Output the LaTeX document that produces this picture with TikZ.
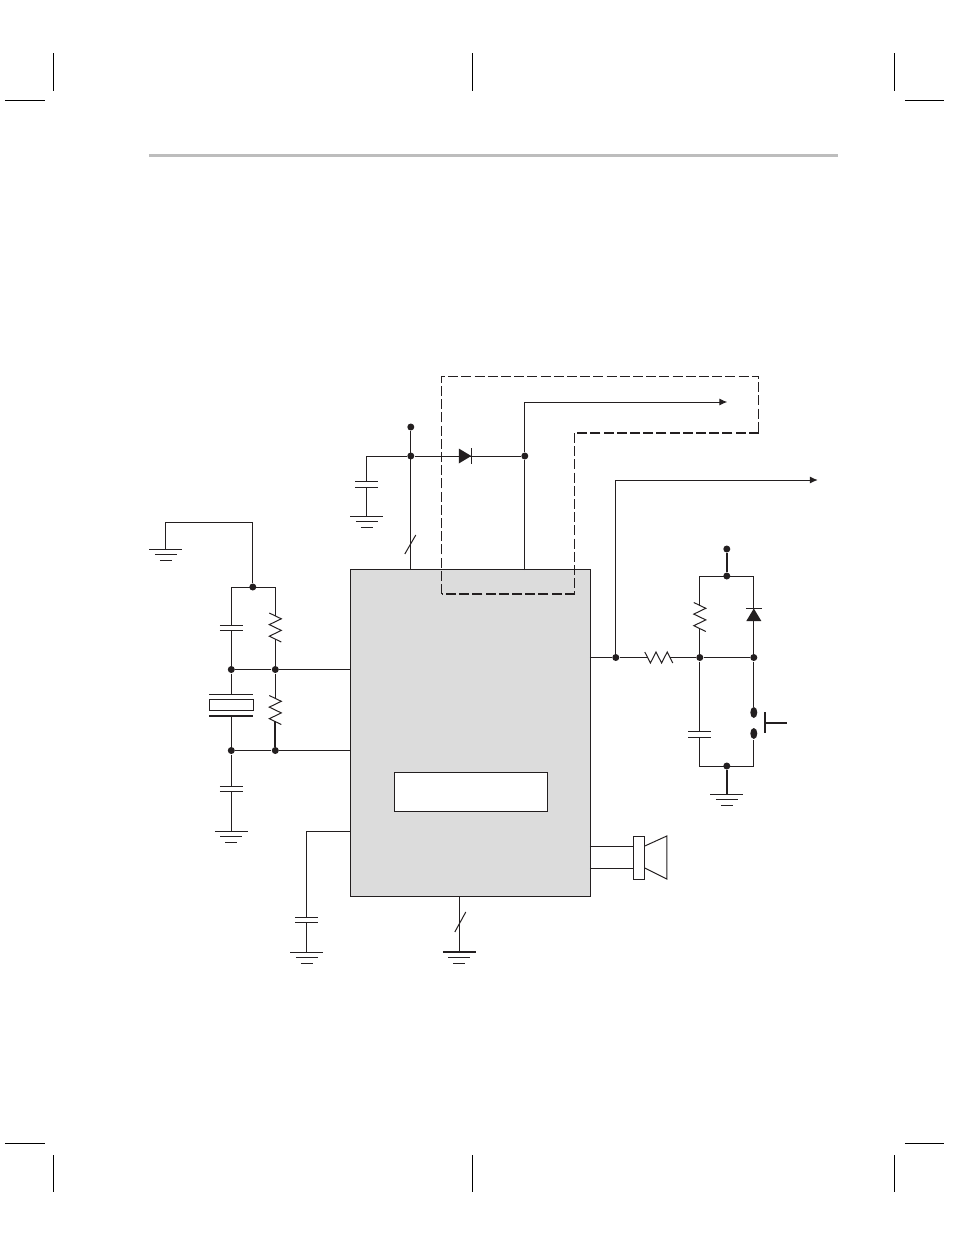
\documentclass[tikz,border=0pt]{standalone}
\usepackage{tikz}
\usetikzlibrary{arrows.meta,shapes.geometric}
\definecolor{inkColor}{HTML}{231F20}
\definecolor{chipColor}{HTML}{DCDCDC}
\definecolor{ruleColor}{HTML}{BDBDBD}
\newcommand{\capacitor}[2]{%%
  \coordinate (#1) at (#2);
  \coordinate (#1-t) at ([yshift=2.75pt]#1);
  \coordinate (#1-b) at ([yshift=-2.75pt]#1);
  \draw ([xshift=-11.5pt]#1-t) -- ([xshift=11.5pt]#1-t);
  \draw ([xshift=-11.5pt]#1-b) -- ([xshift=11.5pt]#1-b);
}
\newcommand{\groundSym}[3]{%%
  \coordinate (#1) at (#2);
  \draw[#3] ([xshift=-16.5pt]#1) -- ([xshift=16.5pt]#1);
  \draw ([xshift=-11pt,yshift=-5.5pt]#1) -- ([xshift=11pt,yshift=-5.5pt]#1);
  \draw[thick] ([xshift=-6pt,yshift=-11pt]#1) -- ([xshift=6pt,yshift=-11pt]#1);
}
\newcommand{\resistorV}[2]{%%
  \coordinate (#1) at (#2);
  \coordinate (#1-t) at ([yshift=11.2pt]#1);
  \coordinate (#1-b) at ([yshift=-11.2pt]#1);
  \draw[miter limit=4] ([xshift=-6pt,yshift=14.5pt]#1) -- ++(12pt,-5.8pt) -- ++(-12pt,-5.8pt)
    -- ++(12pt,-5.8pt) -- ++(-12pt,-5.8pt) -- ++(12pt,-5.8pt);
}
\newcommand{\resistorH}[2]{%%
  \coordinate (#1) at (#2);
  \coordinate (#1-l) at ([xshift=-11.2pt]#1);
  \coordinate (#1-r) at ([xshift=11.2pt]#1);
  \draw[miter limit=4] ([xshift=-14pt,yshift=5.5pt]#1) -- ++(5.6pt,-11pt) -- ++(5.6pt,11pt)
    -- ++(5.6pt,-11pt) -- ++(5.6pt,11pt) -- ++(5.6pt,-11pt);
}
\newcommand{\diode}[3]{%%
  \begin{scope}[shift={(#2)},rotate=#3]
    \coordinate (#1) at (0,0);
    \fill[inkColor] (6pt,0pt) -- (-6.5pt,7.5pt) -- (-6.5pt,-7.5pt) -- cycle;
    \draw[line width=1.5pt] (6pt,8pt) -- (6pt,-8pt);
  \end{scope}
}
\begin{document}
\begin{tikzpicture}[x=1pt,y=-1pt,color=inkColor,line width=1pt,%%
  dotStyle/.style={draw=none,fill=inkColor,circle,inner sep=0pt,minimum size=7pt},%%
  contactStyle/.style={draw=none,fill=inkColor,ellipse,inner sep=0pt,minimum width=7pt,minimum height=11pt},%%
  thickWire/.style={line width=1.7pt},%%
  dashStyle/.style={dash pattern=on 10pt off 3.2pt,line width=1pt},%%
  dashThick/.style={dash pattern=on 10pt off 3.2pt,line width=1.6pt},%%
  arrowStyle/.style={-{Latex[length=8pt,width=7pt]}},%%
  cropStyle/.style={draw=black,line width=0.7pt}%%
]
\useasboundingbox (0.2,0) rectangle (954.2,1235);
%% Crop marks and page rule.
\draw[cropStyle] (54,53) -- (54,91);
\draw[cropStyle] (473,53) -- (473,91);
\draw[cropStyle] (895,53) -- (895,91);
\draw[cropStyle] (5,100) -- (45,100);
\draw[cropStyle] (905,100) -- (944,100);
\draw[cropStyle] (54,1155) -- (54,1192);
\draw[cropStyle] (473,1155) -- (473,1192);
\draw[cropStyle] (895,1155) -- (895,1192);
\draw[cropStyle] (5,1143) -- (45,1143);
\draw[cropStyle] (905,1143) -- (944,1143);
\draw[draw=ruleColor,line width=3pt] (149,155) -- (838,155);
%%
%% The chip and its display.
\node[draw=inkColor,fill=chipColor,minimum width=239.5pt,minimum height=326.5pt,inner sep=0pt] (chip) at (470.75,733) {};
\node[draw=inkColor,fill=white,minimum width=152.5pt,minimum height=38.5pt,inner sep=0pt] (display) at (471.25,792) {};
%%
%% Supply and the diode above the chip.
\node[dotStyle] (supplyTop) at (411,427) {};
\node[dotStyle] (supplyJoin) at (411,456) {};
\node[dotStyle] (diodeOut) at (525,456) {};
\coordinate (supplyPin) at (411,570);
\coordinate (diodePin) at (525,570);
\coordinate (supplyCorner) at (367,456);
\coordinate (slashTopA) at (405,554);
\coordinate (slashTopB) at (416,535);
\capacitor{capSupply}{367,484.5}
\groundSym{gndSupply}{367,516}{}
\draw (supplyTop) -- (supplyPin);
\draw (slashTopA) -- (slashTopB);
\draw (capSupply-t) -- (supplyCorner) -- (supplyJoin);
\draw (capSupply-b) -- (gndSupply);
\draw (supplyJoin) -- (diodeOut);
\diode{diodeTop}{465.5,456}{0}
\draw (diodePin) -- (diodeOut);
%%
%% Output lines with arrows.
\coordinate (lineA) at (727.5,402);
\coordinate (lineB) at (818,480);
\draw[arrowStyle] (diodeOut) |- (lineA);
\node[dotStyle] (outJoin) at (616,657.5) {};
\draw[arrowStyle] (outJoin) |- (lineB);
%%
%% The dashed outline.
\coordinate (dashA) at (442,594);
\coordinate (dashB) at (442,376);
\coordinate (dashC) at (759,376);
\coordinate (dashD) at (759,433);
\coordinate (dashE) at (575,433);
\coordinate (dashF) at (575,594);
\draw[dashStyle] (dashA) -- (dashB) -- (dashC) -- (dashD);
\draw[dashThick] (dashD) -- (dashE);
\draw[dashStyle] (dashE) -- (dashF);
\draw[dashThick] (dashF) -- (dashA);
%%
%% Oscillator on the left.
\groundSym{gndTop}{166,549}{thick}
\coordinate (gndCorner) at (166,522);
\coordinate (gndCornerB) at (253,522);
\node[dotStyle] (oscTop) at (253,587) {};
\coordinate (oscLeft) at (231.5,587);
\coordinate (oscRight) at (275.5,587);
\draw (gndTop) -- (gndCorner) -- (gndCornerB) -- (oscTop);
\draw (oscLeft) -- (oscRight);
\capacitor{capOscA}{231.5,628}
\resistorV{resOscA}{275.5,627.5}
\node[dotStyle] (oscMidL) at (231.5,669.5) {};
\node[dotStyle] (oscMidR) at (275.5,669.5) {};
\coordinate (oscPinA) at (351,669.5);
\draw (oscLeft) -- (capOscA-t);
\draw (capOscA-b) -- (oscMidL);
\draw (oscRight) -- (resOscA-t);
\draw (resOscA-b) -- (oscMidR);
\draw (oscMidL) -- (oscMidR) -- (oscPinA);
%%
\node[draw=inkColor,fill=white,minimum width=44pt,minimum height=11pt,inner sep=0pt] (crystal) at (231.5,704.5) {};
\coordinate (crystalTop) at (231.5,694);
\coordinate (crystalBot) at (231.5,716);
\draw ([xshift=-22pt]crystalTop) -- ([xshift=22pt]crystalTop);
\draw[thickWire] ([xshift=-22pt]crystalBot) -- ([xshift=22pt]crystalBot);
\node[dotStyle] (oscLowL) at (231.5,750.5) {};
\node[dotStyle] (oscLowR) at (275.5,750.5) {};
\coordinate (oscPinB) at (351,750.5);
\resistorV{resOscB}{275.5,710}
\capacitor{capOscB}{231.5,789}
\groundSym{gndOsc}{231.5,831}{}
\draw (oscMidL) -- (crystalTop);
\draw (crystalBot) -- (oscLowL);
\draw (oscMidR) -- (resOscB-t);
\draw[thickWire] (resOscB-b) -- (oscLowR);
\draw (oscLowL) -- (oscLowR) -- (oscPinB);
\draw (oscLowL) -- (capOscB-t);
\draw (capOscB-b) -- (gndOsc);
%%
%% Lower left capacitor and bottom ground.
\coordinate (filterPin) at (351,831);
\coordinate (filterCorner) at (307,831);
\capacitor{capFilter}{307,920}
\groundSym{gndFilter}{307,952}{thick}
\draw (filterPin) -- (filterCorner) -- (capFilter-t);
\draw (capFilter-b) -- (gndFilter);
\coordinate (groundPin) at (459.5,896);
\coordinate (slashLowA) at (455,932);
\coordinate (slashLowB) at (466,912);
\groundSym{gndChip}{459.5,952}{thickWire}
\draw (groundPin) -- (gndChip);
\draw (slashLowA) -- (slashLowB);
%%
%% Reset circuit on the right.
\coordinate (resetPin) at (590,657.5);
\resistorH{resReset}{659,657.5}
\node[dotStyle] (resetL) at (700,657.5) {};
\node[dotStyle] (resetR) at (754,657.5) {};
\node[dotStyle] (resetVcc) at (727,549) {};
\node[dotStyle] (resetTop) at (727,576) {};
\node[dotStyle] (resetBot) at (727,766) {};
\coordinate (resetTL) at (700,576);
\coordinate (resetTR) at (754,576);
\coordinate (resetBL) at (700,766);
\coordinate (resetBR) at (754,766);
\resistorV{resPull}{700,617}
\capacitor{capReset}{700,734.5}
\groundSym{gndReset}{727,794}{}
\diode{diodeReset}{754,614.5}{90}
\node[contactStyle] (contactA) at (754,712.5) {};
\node[contactStyle] (contactB) at (754,733.5) {};
\coordinate (pushTop) at (765,712);
\coordinate (pushBot) at (765,733);
\coordinate (pushMid) at (765,723);
\coordinate (pushEnd) at (787,723);
\draw (resetPin) -- (outJoin);
\draw[thickWire] (outJoin) -- (resReset-l);
\draw[thickWire] (resReset-r) -- (resetL);
\draw (resetL) -- (resetR);
\draw[thickWire] (resetVcc) -- (resetTop);
\draw (resetTL) -- (resetTR);
\draw (resetTL) -- (resPull-t);
\draw (resPull-b) -- (resetL);
\draw (resetTR) -- (resetR);
\draw (resetL) -- (capReset-t);
\draw (capReset-b) -- (resetBL) -- (resetBR) -- (contactB);
\draw (resetR) -- (contactA);
\draw[thickWire] (resetBot) -- (gndReset);
\draw[thickWire] (pushTop) -- (pushBot);
\draw[thickWire] (pushMid) -- (pushEnd);
%%
%% Speaker.
\node[draw=inkColor,fill=white,minimum width=11pt,minimum height=43pt,inner sep=0pt] (coil) at (639.5,857.5) {};
\coordinate (speakerPinA) at (590,846);
\coordinate (speakerPinB) at (590,868);
\coordinate (coilA) at (634,846);
\coordinate (coilB) at (634,868);
\coordinate (coneA) at (645,846);
\coordinate (coneB) at (667,836);
\coordinate (coneC) at (667,879);
\coordinate (coneD) at (645,868);
\draw (speakerPinA) -- (coilA);
\draw (speakerPinB) -- (coilB);
\draw (coneA) -- (coneB) -- (coneC) -- (coneD);
\end{tikzpicture}
\end{document}
